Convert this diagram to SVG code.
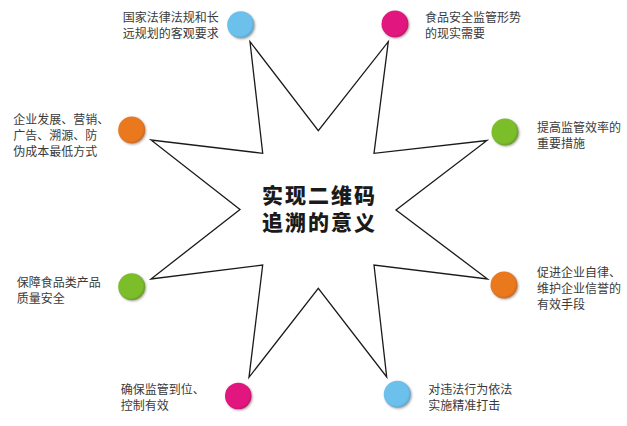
<svg xmlns="http://www.w3.org/2000/svg" width="627" height="426" viewBox="0 0 627 426">
<defs>
<filter id="soft" x="-30%" y="-30%" width="160%" height="160%">
<feGaussianBlur in="SourceAlpha" stdDeviation="1.2"/>
<feOffset dx="0.8" dy="0.8" result="b"/>
<feFlood flood-color="#7a6a60" flood-opacity="0.6"/>
<feComposite in2="b" operator="in" result="s"/>
<feMerge><feMergeNode in="s"/><feMergeNode in="SourceGraphic"/></feMerge>
</filter>
<radialGradient id="gBlue" cx="0.45" cy="0.45" r="0.6"><stop offset="0.75" stop-color="#6cc0ec"/><stop offset="1" stop-color="#5a9fc2"/></radialGradient>
<radialGradient id="gMag" cx="0.45" cy="0.45" r="0.6"><stop offset="0.75" stop-color="#e2177f"/><stop offset="1" stop-color="#b8186c"/></radialGradient>
<radialGradient id="gGreen" cx="0.45" cy="0.45" r="0.6"><stop offset="0.75" stop-color="#7cbe2a"/><stop offset="1" stop-color="#5f8f2c"/></radialGradient>
<radialGradient id="gOrange" cx="0.45" cy="0.45" r="0.6"><stop offset="0.75" stop-color="#ea781c"/><stop offset="1" stop-color="#b9672a"/></radialGradient>
</defs>
<style>
.dot{filter:url(#soft)}
.lbl{font-family:"Noto Sans CJK SC","Noto Sans",sans-serif;font-size:12px;fill:#3a3a3a}
.title{font-family:"Noto Sans CJK SC","Noto Sans",sans-serif;font-size:21px;font-weight:900;fill:#1a1a1a;letter-spacing:2px}
.star{fill:#ffffff;stroke:#1a1a1a;stroke-width:1.3;stroke-linejoin:miter}
</style>
<rect width="627" height="426" fill="#ffffff"/>
<g id="connectors">
<polygon class="star" points="250,41.7 318.3,130.7 388.3,41.7 374,153.3 487,140.5 396,210 487.5,279 374,265 386.7,377 318.3,288.3 249,377.3 262.7,265 151,279 240,209.5 151,140 262.7,153.3"/>
</g>
<g id="center">
<text class="title" x="319.5" y="202.5" text-anchor="middle">实现二维码</text>
<text class="title" x="319.5" y="230" text-anchor="middle">追溯的意义</text>
</g>
<g id="n1">
<circle class="dot" cx="240.7" cy="24.7" r="13.5" fill="url(#gBlue)"/>
<text class="lbl" x="122.7" y="22">国家法律法规和长</text>
<text class="lbl" x="122.7" y="38">远规划的客观要求</text>
</g>
<g id="n2">
<circle class="dot" cx="395" cy="24" r="13.5" fill="url(#gMag)"/>
<text class="lbl" x="425" y="22">食品安全监管形势</text>
<text class="lbl" x="425" y="38">的现实需要</text>
</g>
<g id="n3">
<circle class="dot" cx="505" cy="132" r="13.5" fill="url(#gGreen)"/>
<text class="lbl" x="537" y="131.5">提高监管效率的</text>
<text class="lbl" x="537" y="147.5">重要措施</text>
</g>
<g id="n4">
<circle class="dot" cx="131.7" cy="130" r="13.5" fill="url(#gOrange)"/>
<text class="lbl" x="13.3" y="123.5">企业发展、营销、</text>
<text class="lbl" x="13.3" y="139.5">广告、溯源、防</text>
<text class="lbl" x="13.3" y="155.5">伪成本最低方式</text>
</g>
<g id="n5">
<circle class="dot" cx="131.7" cy="286.7" r="13.5" fill="url(#gGreen)"/>
<text class="lbl" x="16.7" y="287">保障食品类产品</text>
<text class="lbl" x="16.7" y="303">质量安全</text>
</g>
<g id="n6">
<circle class="dot" cx="504" cy="285" r="13.5" fill="url(#gOrange)"/>
<text class="lbl" x="537" y="276.5">促进企业自律、</text>
<text class="lbl" x="537" y="292.5">维护企业信誉的</text>
<text class="lbl" x="537" y="308.5">有效手段</text>
</g>
<g id="n7">
<circle class="dot" cx="238.3" cy="396" r="13.3" fill="url(#gMag)"/>
<text class="lbl" x="120.7" y="393.5">确保监管到位、</text>
<text class="lbl" x="120.7" y="409.5">控制有效</text>
</g>
<g id="n8">
<circle class="dot" cx="397.3" cy="394.3" r="13.5" fill="url(#gBlue)"/>
<text class="lbl" x="428.3" y="393.5">对违法行为依法</text>
<text class="lbl" x="428.3" y="409.5">实施精准打击</text>
</g>
</svg>
